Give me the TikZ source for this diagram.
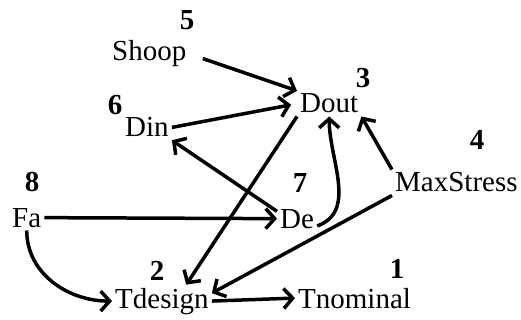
\documentclass[tikz,border=0pt]{standalone}
\usepackage{fontspec}
\setmainfont{Liberation Serif}
\usetikzlibrary{arrows.meta}

\begin{document}
\begin{tikzpicture}[x=1pt, y=-1pt,
    word/.style={anchor=base west, inner sep=3pt, font=\fontsize{29}{34}\selectfont},
    num/.style={anchor=base, inner sep=0pt, font=\fontsize{29}{34}\selectfont\bfseries},
    link/.style={line width=3.5pt, -{Straight Barb[length=9pt, width=20pt, line width=3.5pt]}}]
    \useasboundingbox (0, 0) rectangle (521, 320);

    % 变量
    \node[word] (shoop) at (109, 61) {Shoop};
    \node[word] (dout) at (297, 113) {Dout};
    \node[word] (din) at (122, 137) {Din};
    \node[word] (maxstress) at (392, 192) {MaxStress};
    \node[word] (fa) at (9, 227) {Fa};
    \node[word] (de) at (277, 228) {De};
    \node[word] (tdesign) at (112, 308) {Tdesign};
    \node[word] (tnominal) at (295, 308) {Tnominal};

    % 编号
    \node[num] (n5) at (187, 30) {5};
    \node[num] (n3) at (363, 88) {3};
    \node[num] (n6) at (115, 115) {6};
    \node[num] (n4) at (477, 150) {4};
    \node[num] (n8) at (32, 192) {8};
    \node[num] (n7) at (300, 193) {7};
    \node[num] (n2) at (157, 280) {2};
    \node[num] (n1) at (397, 278) {1};

    % 依赖关系
    \draw[link, shorten <=14pt] (shoop.east) -- (dout.north west);
    \draw[link, shorten >=6pt] (din.east) -- (dout.west);
    \draw[link] (dout.south west) -- (tdesign.34);
    \draw[link] (maxstress.north west) -- (dout.south east);
    \draw[link] (maxstress.south west) -- (tdesign.9);
    \draw[link] (de.160) -- (din.south east);
    \draw[link] (de.-20) to[out=20, in=-90] (dout.south);
    \draw[link] (fa.east) -- (de.west);
    \draw[link] (fa.south) to[out=-90, in=180] (tdesign.west);
    \draw[link] (tdesign.east) -- (tnominal.west);
\end{tikzpicture}
\end{document}
